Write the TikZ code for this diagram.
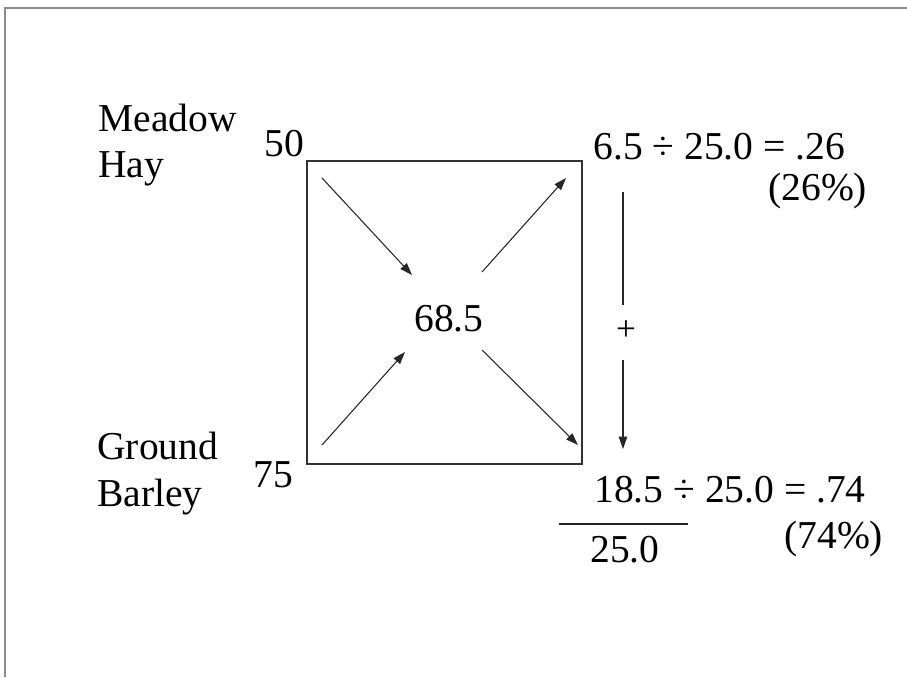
\documentclass[tikz,border=0pt]{standalone}
\usepackage{fontspec}
\setmainfont{Liberation Serif}
\usetikzlibrary{arrows.meta}

\begin{document}
\begin{tikzpicture}[
  x=0.02cm, y=-0.02cm,
  >={Triangle[length=7pt,width=4.8pt]},
  txt/.style={anchor=base west, inner sep=0pt,
              font=\fontsize{22.5}{25}\selectfont},
  feed/.style={->, draw=black!85, line width=0.6pt},
  rule/.style={draw=black!85, line width=0.6pt},
  frame/.style={draw=black!45, line width=1.1pt},
  square/.style={draw=black!80, line width=0.8pt},
]

% --- fixed bounding box (white background) ---
\fill[white] (0,0) rectangle (907,677);
\useasboundingbox (0,0) rectangle (907,677);

% --- open frame, left and top edges only ---
\draw[frame] (5,677) -- (5,8) -- (907,8);

% --- Pearson square ---
\draw[square] (307,161) rectangle (582,464);

% ============================ NODES =================================
% feeds on the left
\node[txt] (meadow) at (98,131) {Meadow};
\node[txt] (hay) at (98,177) {Hay};
\node[txt] (ground) at (97,459) {Ground};
\node[txt] (barley) at (97,506) {Barley};
\node[txt] (hayval) at (264,156) {50};
\node[txt] (barleyval) at (253,487) {75};

% target in the middle
\node[txt] (mix) at (414,331) {68.5};

% parts and fractions on the right
\node[txt] (hayparts) at (593,159) {6.5 ÷ 25.0 = .26};
\node[txt] (haypct) at (768,200) {(26\%)};
\node[txt] (barleyparts) at (594,502) {18.5 ÷ 25.0 = .74};
\node[txt] (barleypct) at (784,548) {(74\%)};
\node[txt] (total) at (590,562) {25.0};
\node[font=\fontsize{20}{22}\selectfont, inner sep=0pt] (plus) at (626,331) {+};

% free arrow ends
\coordinate (hayin) at (322,178);
\coordinate (hayend) at (412,275);
\coordinate (barleyin) at (322,445);
\coordinate (barleyend) at (405,352);
\coordinate (outup) at (482,272);
\coordinate (outupend) at (566,178);
\coordinate (outdn) at (482,350);
\coordinate (outdnend) at (578,445);
\coordinate (sumtop) at (623,192);
\coordinate (sumgapa) at (623,305);
\coordinate (sumgapb) at (623,360);
\coordinate (sumend) at (623,449);
\coordinate (barl) at (559,524);
\coordinate (barr) at (688,524);

% ============================ EDGES =================================
% diagonals of the square
\draw[feed] (hayin) -- (hayend);
\draw[feed] (barleyin) -- (barleyend);
\draw[feed] (outup) -- (outupend);
\draw[feed] (outdn) -- (outdnend);

% sum of the parts
\draw[rule] (sumtop) -- (sumgapa);
\draw[feed] (sumgapb) -- (sumend);
\draw[rule] (barl) -- (barr);

\end{tikzpicture}
\end{document}
